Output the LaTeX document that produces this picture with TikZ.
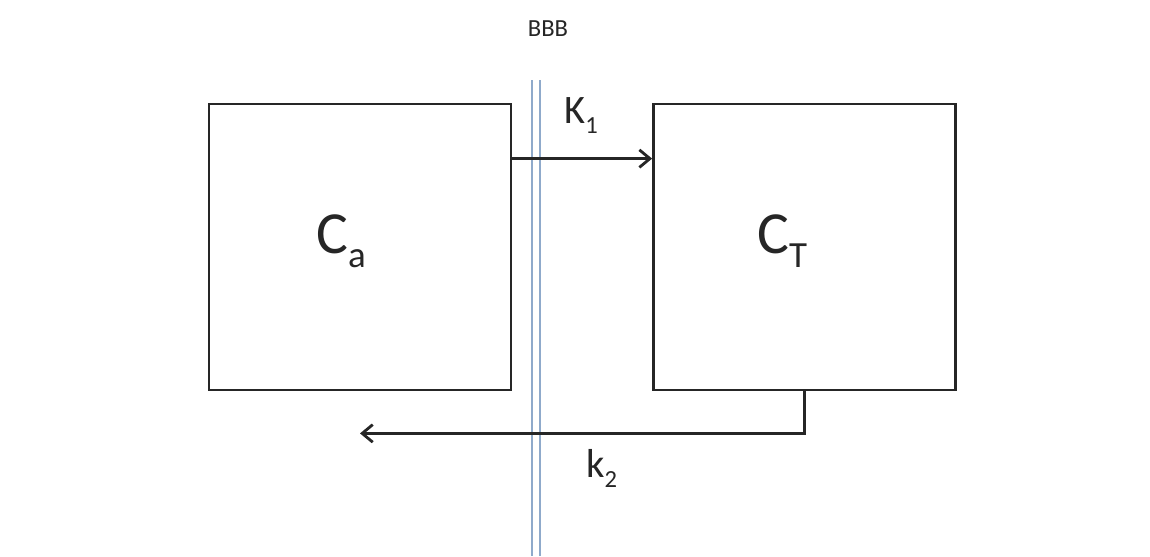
\documentclass[tikz,border=0pt]{standalone}
\usepackage{fontspec}
\setmainfont{Carlito}
\usepackage{xcolor}
\definecolor{bbbblue}{HTML}{8FAACB}
\definecolor{boxline}{HTML}{262626}
\usepackage{tikz}
\usetikzlibrary{
  arrows.meta,
  positioning,
}
% lowered subscript: drop, size, text
\newcommand{\dropsub}[3]{\raisebox{-#1}{\fontsize{#2}{#2}\selectfont #3}}

\begin{document}
\begin{tikzpicture}[
  x=0.02cm, y=-0.02cm,
  compartment/.style={
    draw=boxline, line width=1.6pt, minimum width=6.04cm, minimum height=5.72cm,
    inner sep=0pt,
  },
  conc/.style={
    anchor=base west, inner sep=0pt, text=boxline, font=\fontsize{34}{40}\selectfont,
  },
  flow/.style={
    -{Straight Barb[length=6pt,width=10pt,line width=1.6pt]}, line width=1.6pt, color=boxline,
  },
  barrier/.style={
    draw=bbbblue, line width=0.6pt,
  },
  rate/.style={
    anchor=base west, inner sep=0pt, text=boxline, font=\fontsize{23}{28}\selectfont,
  },
]
  \useasboundingbox (0,0) rectangle (1150,556);

  % --- compartments ---
  \node[compartment] (ca) at (360,247) {};
  \node[compartment] (ct) at (804.5,247) {};
  \node[conc] (ca-lbl) at (316,253) {C\dropsub{8.5pt}{21}{a}};
  \node[conc] (ct-lbl) at (757,253) {C\dropsub{8.5pt}{21}{T}};

  % --- blood-brain barrier ---
  \draw[barrier] (532,80) -- (532,556);
  \draw[barrier] (540,80) -- (540,556);
  \node[font=\fontsize{14}{16}\selectfont, text=boxline] (bbb) at (548,29) {BBB};

  % --- transfer ---
  \draw[flow] ([yshift=-1.12cm]ca.north east) -- ([yshift=-1.12cm]ct.north west);
  \node[rate] (k1) at (564,123) {K\dropsub{5.7pt}{14}{1}};

  \draw[flow] (ct.south) -- ([yshift=-0.84cm]ct.south) -- ([yshift=-0.84cm]ca.south);
  \node[rate] (k2) at (586,477) {k\dropsub{5.7pt}{14}{2}};
\end{tikzpicture}
\end{document}
